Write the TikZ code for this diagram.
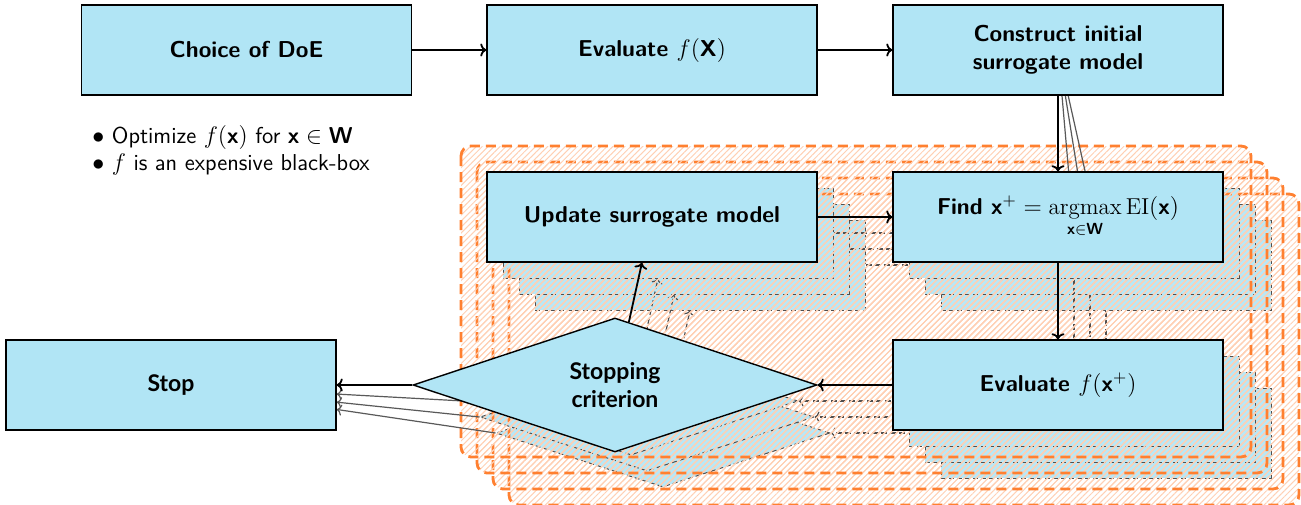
\documentclass[tikz,border=0pt]{standalone}
\usepackage{amsmath}
\usepackage{fontspec}
\newfontfamily\latofont{Lato}
\usetikzlibrary{shapes.geometric,patterns.meta,arrows.meta}
\definecolor{boxblue}{RGB}{177,229,245}
\definecolor{copyblue}{RGB}{184,232,247}
\definecolor{hatchcol}{RGB}{255,208,180}
\definecolor{orangeline}{RGB}{255,128,48}
\definecolor{copyline}{RGB}{80,80,80}
\pgfdeclarelayer{copies}
\pgfdeclarelayer{hatch}
\pgfdeclarelayer{links}
\pgfsetlayers{copies,hatch,links,main}
\tikzset{
  box/.style={draw=black, line width=0.7pt, fill=boxblue, minimum width=165pt, minimum height=45pt,
    inner sep=0pt, align=center, font=\sffamily\bfseries\fontsize{11.5}{14}\selectfont},
  stopbox/.style={box, font=\latofont\bfseries\fontsize{11.5}{14}\selectfont},
  copybox/.style={draw=copyline, line width=0.5pt, dash pattern=on 2.5pt off 1.5pt, fill=copyblue,
    minimum width=165pt, minimum height=45pt, inner sep=0pt},
  decision/.style={diamond, aspect=3, draw=black, line width=0.7pt, fill=boxblue, minimum width=202pt,
    minimum height=67pt, inner sep=0pt, align=center, font=\latofont\bfseries\fontsize{11.5}{14}\selectfont},
  copydecision/.style={diamond, aspect=3, draw=copyline, line width=0.5pt, dash pattern=on 2.5pt off 1.5pt,
    fill=copyblue, minimum width=167pt, minimum height=54pt, inner sep=0pt},
  layerbox/.style={draw=orangeline, line width=1.4pt, dash pattern=on 5pt off 3pt, rounded corners=5pt,
    pattern={Lines[angle=45,distance=2.1pt,line width=0.5pt]}, pattern color=hatchcol},
  flow/.style={-{To[length=3pt,width=6.5pt]}, line width=0.9pt, black},
  copyflow/.style={-{To[length=2.5pt,width=5.5pt]}, line width=0.6pt, copyline, dash pattern=on 3pt off 1.5pt},
  outflow/.style={-{To[length=2.5pt,width=5.5pt]}, line width=0.6pt, black!65},
  notes/.style={anchor=west, align=left, inner sep=0pt, font=\sffamily\fontsize{11.5}{13.5}\selectfont}
}
\begin{document}
\begin{tikzpicture}[x=0.5pt,y=-0.5pt]
\useasboundingbox (0,0) rectangle (1301,504);

% main nodes
\node[box] (choice) at (246.5,50) {Choice of DoE};
\node[box] (evalX) at (652,50) {Evaluate $f(\text{X})$};
\node[box] (construct) at (1058,50) {Construct initial\\surrogate model};
\node[box] (update) at (652,217) {Update surrogate model};
\node[box] (find) at (1058,217) {Find $\text{x}^+ = \displaystyle\operatorname*{argmax}_{\text{x}\in\text{W}} \mathrm{EI}(\text{x})$};
\node[box] (evalx) at (1058,385) {Evaluate $f(\text{x}^+)$};
\node[decision] (crit) at (615,385) {Stopping\\criterion};
\node[stopbox] (stop) at (171,385) {Stop};

\node[notes] (notes) at (92,150) {$\bullet$ Optimize $f(\textbf{x})$ for $\textbf{x} \in \textbf{W}$\\$\bullet$ $f$ is an expensive black-box};

% copies of the loop
\begin{pgfonlayer}{copies}
\foreach \k in {3,2,1} {
  \node[copybox] (u\k) at ({652+16*\k},{217+16*\k}) {};
  \node[copybox] (f\k) at ({1058+16*\k},{217+16*\k}) {};
  \node[copybox] (e\k) at ({1058+16*\k},{385+16*\k}) {};
  \node[copydecision] (d\k) at ({615+16*\k},{385+16*\k}) {};
  \draw[copyflow] (u\k) -- (f\k);
  \draw[copyflow] (f\k) -- (e\k);
  \draw[copyflow] (e\k) -- (d\k);
  \draw[copyflow] (d\k) -- (u\k);
}
\end{pgfonlayer}

% hatched iteration layers
\begin{pgfonlayer}{hatch}
\foreach \k in {3,2,1,0} {
  \draw[layerbox] ({461+16*\k},{146+16*\k}) rectangle ({1251+16*\k},{457+16*\k});
}
\end{pgfonlayer}

% links from and to outside the loop
\begin{pgfonlayer}{links}
\foreach \k in {1,2,3} {
  \draw[outflow] (construct) -- (f\k);
  \draw[outflow] (d\k.west) -- (stop);
}
\end{pgfonlayer}

% main connectors
\draw[flow] (choice) -- (evalX);
\draw[flow] (evalX) -- (construct);
\draw[flow] (construct) -- (find);
\draw[flow] (update) -- (find);
\draw[flow] (find) -- (evalx);
\draw[flow] (evalx) -- (crit);
\draw[flow] (crit) -- (update);
\draw[flow] (crit) -- (stop);
\end{tikzpicture}
\end{document}
